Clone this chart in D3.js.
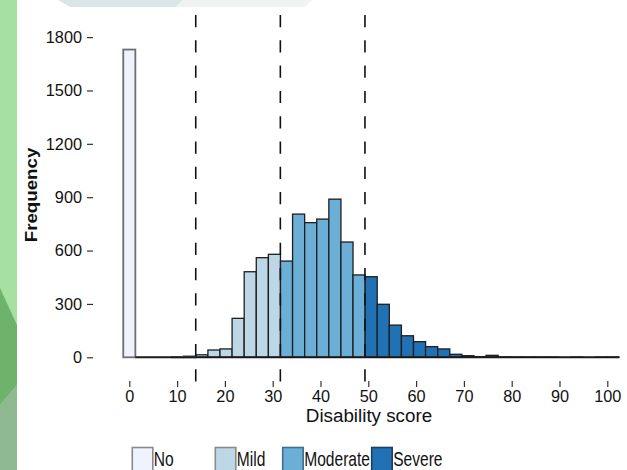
<!DOCTYPE html>
<html><head><meta charset="utf-8">
<script src="https://cdn.jsdelivr.net/npm/d3@7"></script>
<style>html,body{margin:0;padding:0;background:#fff;} svg{display:block;}</style>
</head><body><svg id="c" width="627" height="470"></svg>
<script>
// ---- data ----
const binWidth = 2.53;
const frequencies = [1730,0,0,0,1,6,14,41,47,219,481,560,579,541,805,757,777,889,648,463,453,298,181,121,88,60,47,17,9,3,11,2,1,1,1,1,0,1,0,1,1];
const categories = ["No","Mild","Moderate","Severe"];
const cutoffs = [13.9, 31.6, 49.3];
const categoryColors = ["#eff3ff","#bdd7e7","#6baed6","#2171b5"];
const xTicks = [0,10,20,30,40,50,60,70,80,90,100];
const yTicks = [0,300,600,900,1200,1500,1800];

// ---- layout ----
const svg = d3.select("#c");
const W = 627, H = 470;
const font = "'Liberation Sans', Arial, sans-serif";

// background decorations
svg.append("rect").attr("x",0).attr("y",0).attr("width",W).attr("height",H).attr("fill","#fff");
svg.append("rect").attr("x",0).attr("y",0).attr("width",17).attr("height",H).attr("fill","#a6e1a1");
svg.append("polygon").attr("points","0,288 17,325 17,385 0,405").attr("fill","#6db36b");
svg.append("polygon").attr("points","0,405 17,385 17,470 0,470").attr("fill","#8fb990");
svg.append("polygon").attr("points","58,0 183,0 176,7 70,7").attr("fill","#d9e5e7");
svg.append("polygon").attr("points","183,0 312,0 305,7 176,7").attr("fill","#f1f2f2");

const x = d3.scaleLinear().domain([0,100]).range([129.3,607.3]);
const y = d3.scaleLinear().domain([0,1800]).range([357.3,37.1]);

const bins = frequencies.map((f,k)=>({center:k*binWidth, value:f, cat:d3.bisect(cutoffs,k*binWidth)}));

svg.append("g").selectAll("rect").data(bins).join("rect")
  .attr("x", d=>x(d.center-binWidth/2))
  .attr("width", d=>x(d.center+binWidth/2)-x(d.center-binWidth/2))
  .attr("y", d=>y(d.value))
  .attr("height", d=>y(0)-y(d.value))
  .attr("fill", d=>categoryColors[d.cat])
  .attr("stroke", d=>d.cat===0 ? "#6f6f6f" : "#1e1e1e")
  .attr("stroke-width", d=>d.cat===0 ? 1.8 : 1.3);

// baseline formed by the (zero-height) bin outlines
svg.append("line")
  .attr("x1", x(bins[1].center-binWidth/2)).attr("x2", x(bins[bins.length-1].center+binWidth/2))
  .attr("y1", y(0)).attr("y2", y(0))
  .attr("stroke","#1a1a1a").attr("stroke-width",2);

// dashed cutoff lines
svg.append("g").selectAll("line").data(cutoffs).join("line")
  .attr("x1", d=>x(d)).attr("x2", d=>x(d))
  .attr("y1", 15).attr("y2", 383)
  .attr("stroke","#111").attr("stroke-width",1.6)
  .attr("stroke-dasharray","12.2,13.1");

// axes
const yAxis = svg.append("g").attr("transform","translate(93,0)")
  .call(d3.axisLeft(y).tickValues(yTicks).tickSize(6).tickPadding(5).tickFormat(d3.format("d")));
const xAxis = svg.append("g").attr("transform","translate(0,381)")
  .call(d3.axisBottom(x).tickValues(xTicks).tickSize(6).tickPadding(3).tickFormat(d3.format("d")));
[yAxis,xAxis].forEach(a=>{
  a.select(".domain").remove();
  a.selectAll(".tick line").attr("stroke","#333").attr("stroke-width",1.2);
  a.selectAll(".tick text").attr("fill","#111").style("font-family",font).style("font-size","16.3px");
});

// titles
svg.append("text").attr("transform","translate(37,195) rotate(-90) scale(1.2,1)")
  .attr("text-anchor","middle").style("font-family",font).style("font-size","15.6px")
  .style("font-weight","bold").attr("fill","#111").text("Frequency");
svg.append("text").attr("x",369).attr("y",422).attr("text-anchor","middle")
  .style("font-family",font).style("font-size","18.8px").attr("fill","#111").text("Disability score");

// legend
const legendX = [132.3, 215.3, 282.7, 371.7];
const lg = svg.append("g").selectAll("g").data(categories).join("g")
  .attr("transform",(d,i)=>`translate(${legendX[i]},447.5)`);
lg.append("rect").attr("x",0).attr("y",0).attr("width",20.5).attr("height",24)
  .attr("fill",(d,i)=>categoryColors[i])
  .attr("stroke",(d,i)=> i<2 ? "#8a8a8a" : (i===2 ? "#3f6f8c" : "#1f3f5f")).attr("stroke-width",1.6);
lg.append("text").attr("transform","translate(21.5,18.3) scale(0.76,1)")
  .style("font-family",font).style("font-size","20.5px").attr("fill","#111").text(d=>d);
</script></body></html>
